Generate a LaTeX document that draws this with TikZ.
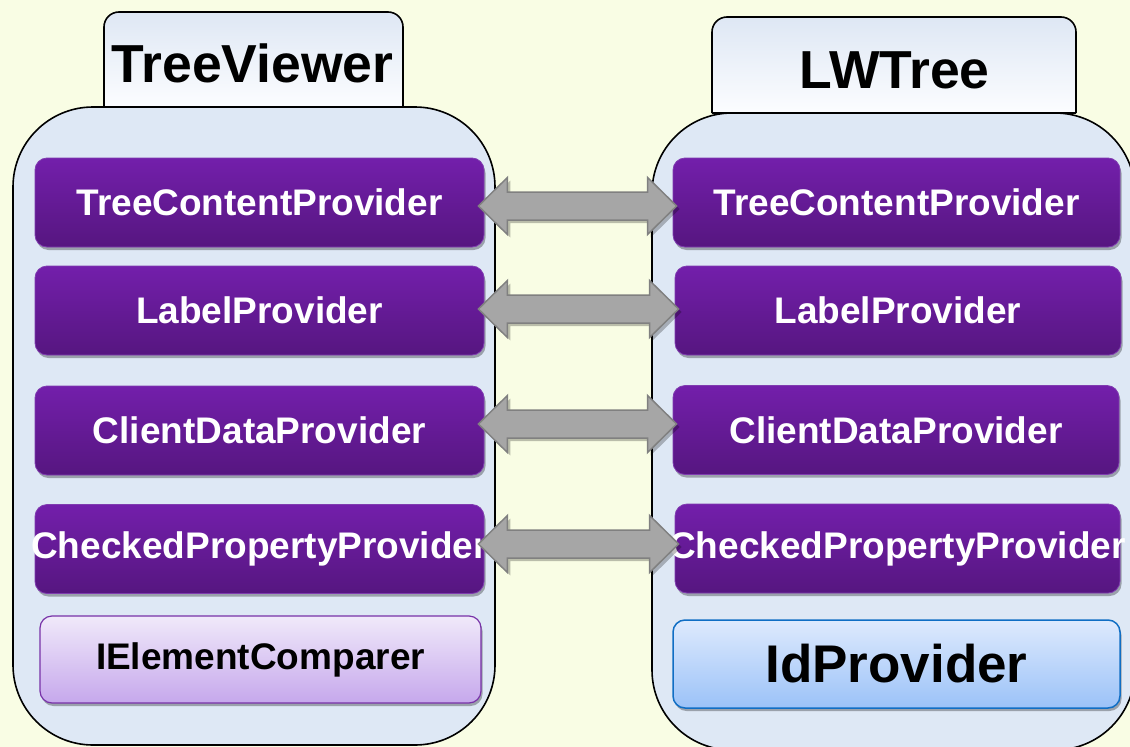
\documentclass[tikz,border=0pt]{standalone}
\usepackage{fontspec}
\setmainfont{Liberation Sans}
\usetikzlibrary{calc,shadows}

\definecolor{paper}{RGB}{249,253,228}
\definecolor{panel}{RGB}{222,232,245}
\definecolor{tabtop}{RGB}{222,231,244}
\definecolor{tabbot}{RGB}{252,253,255}
\definecolor{purpT}{RGB}{115,31,171}
\definecolor{purpB}{RGB}{86,22,128}
\definecolor{purpE}{RGB}{128,60,176}
\definecolor{lilacT}{RGB}{240,233,250}
\definecolor{lilacB}{RGB}{198,168,236}
\definecolor{lilacE}{RGB}{120,50,168}
\definecolor{skyT}{RGB}{222,234,253}
\definecolor{skyB}{RGB}{155,194,248}
\definecolor{skyE}{RGB}{16,110,196}
\definecolor{arrowfill}{RGB}{166,166,166}
\definecolor{arrowedge}{RGB}{128,128,128}

% zero-width wrapper so long labels may run past their box
\newcommand\overhang[1]{\makebox[0pt]{#1}}

% grey two-headed block arrow between two nodes, centred on image row #3
\newcommand\linkarrow[3]{%
  \draw[blockarrow] let \p1=([xshift=-6pt]#1.east), \p2=([xshift=4pt]#2.west), \p3=(0,#3) in
    (\x1,\y3) -- (\x1+29pt,\y3+28.5pt) -- (\x1+29pt,\y3+14pt) -- (\x2-29pt,\y3+14pt)
    -- (\x2-29pt,\y3+28.5pt) -- (\x2,\y3) -- (\x2-29pt,\y3-28.5pt) -- (\x2-29pt,\y3-14pt)
    -- (\x1+29pt,\y3-14pt) -- (\x1+29pt,\y3-28.5pt) -- cycle;}

\begin{document}
\begin{tikzpicture}[x=1pt,y=-1pt,
  container/.style={draw=black, line width=1.6pt, fill=panel, rounded corners=80pt,
    inner sep=0pt},
  tabshade/.style={top color=tabtop, bottom color=tabbot, draw=none},
  taboutline/.style={draw=black, line width=1.6pt},
  title/.style={font=\fontsize{53.5}{60}\selectfont\bfseries, anchor=base, inner sep=0pt},
  pbox/.style={rounded corners=12pt, top color=purpT, bottom color=purpB, draw=purpE,
    line width=0.8pt, minimum height=89pt, inner sep=0pt, text=white,
    font=\fontsize{37}{42}\selectfont\bfseries,
    drop shadow={shadow xshift=1.5pt, shadow yshift=-3pt, opacity=0.3, fill=black}},
  lilacbox/.style={rounded corners=12pt, top color=lilacT, bottom color=lilacB, draw=lilacE,
    line width=1.2pt, minimum width=441pt, minimum height=87pt, inner sep=0pt,
    font=\fontsize{37}{42}\selectfont\bfseries,
    drop shadow={shadow xshift=1.5pt, shadow yshift=-3pt, opacity=0.3, fill=black}},
  skybox/.style={rounded corners=12pt, top color=skyT, bottom color=skyB, draw=skyE,
    line width=1.5pt, minimum width=447pt, minimum height=88pt, inner sep=0pt,
    font=\fontsize{53}{60}\selectfont\bfseries,
    drop shadow={shadow xshift=1.5pt, shadow yshift=-3pt, opacity=0.3, fill=black}},
  blockarrow/.style={fill=arrowfill, draw=arrowedge, line width=1.5pt, line join=miter,
    drop shadow={shadow xshift=3pt, shadow yshift=-3pt, opacity=0.25, fill=black}}
]
\useasboundingbox (0,0) rectangle (1130,747);
\clip (0,0) rectangle (1130,747);
\fill[paper] (0,0) rectangle (1130,747);

% the two component panels
\node[container, minimum width=482pt, minimum height=638pt] (viewer) at (254,426) {};
\node[container, minimum width=483pt, minimum height=637pt] (lwtree) at (893.5,431.5) {};

% title tabs
\fill[tabshade] (104,107) [rounded corners=15pt] -- (104,12) -- (403,12) -- (403,107);
\draw[taboutline] (104,107) [rounded corners=15pt] -- (104,12) -- (403,12) -- (403,107);
\draw[taboutline] (104,107) -- (403,107);
\node[title] (viewertitle) at (252.5,82) {TreeViewer};

\fill[tabshade] (712,113) [rounded corners=15pt] -- (712,17) -- (1076,17) -- (1076,113);
\draw[taboutline] (712,113) [rounded corners=15pt] -- (712,17) -- (1076,17) -- (1076,113);
\draw[taboutline] (712,113) -- (1076,113);
\node[title] (lwtreetitle) at (894.5,88) {LWTree};

% providers of the viewer
\node[pbox, minimum width=449pt] (vcontent) at (259.5,202.5) {TreeContentProvider};
\node[pbox, minimum width=449pt] (vlabel)   at (259.5,310.5) {LabelProvider};
\node[pbox, minimum width=449pt] (vdata)    at (259.5,430.5) {ClientDataProvider};
\node[pbox, minimum width=449pt] (vcheck)   at (259.5,549)   {\overhang{CheckedPropertyProvider}};
\node[lilacbox] (comparer) at (260.5,659.5) {IElementComparer};

% providers of the tree
\node[pbox, minimum width=447pt] (tcontent) at (896.5,202.5) {TreeContentProvider};
\node[pbox, minimum width=446pt] (tlabel)   at (898,310.5)   {LabelProvider};
\node[pbox, minimum width=446pt] (tdata)    at (896,430)     {ClientDataProvider};
\node[pbox, minimum width=445pt] (tcheck)   at (897.5,548.5) {\overhang{CheckedPropertyProvider}};
\node[skybox] (idprov) at (896.5,664) {IdProvider};

% matching providers are linked both ways
\linkarrow{vcontent}{tcontent}{206}
\linkarrow{vlabel}{tlabel}{309}
\linkarrow{vdata}{tdata}{424}
\linkarrow{vcheck}{tcheck}{544}
\end{tikzpicture}
\end{document}
